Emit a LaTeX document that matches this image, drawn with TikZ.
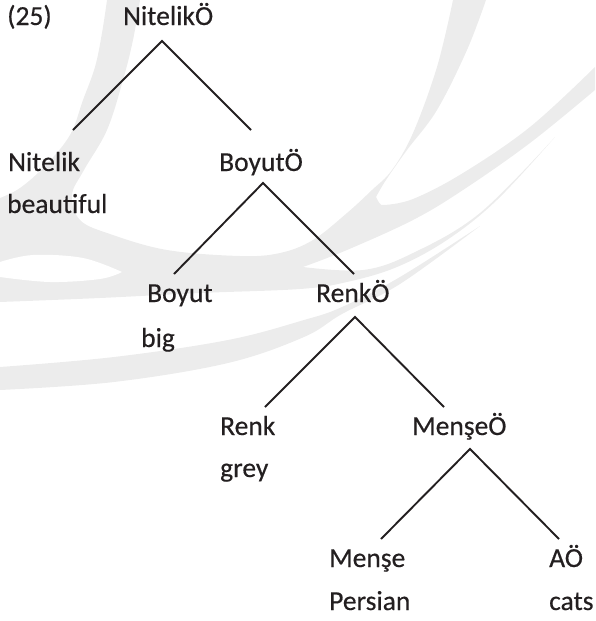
\documentclass[tikz,border=0pt]{standalone}
\usepackage{fontspec}
\setmainfont{Carlito}[FakeBold=0.4]
\definecolor{ink}{HTML}{231F20}
\definecolor{wmark}{RGB}{236,236,236}

\begin{document}
\begin{tikzpicture}[x=1pt,y=-1pt,
  lbl/.style={anchor=base west, inner sep=0pt, text=ink,
              font=\fontsize{27.5}{33}\selectfont},
  branch/.style={draw=ink, line width=1.9pt, line join=miter},
  swoosh/.style={fill=wmark, draw=none}]
\useasboundingbox (0,0) rectangle (595,621);

% --- pale swoosh logo in the background ---
% left stroke, broad band and right strokes
\path[swoosh]
  plot[smooth, tension=0.6] coordinates {(140,0)(133,40)(123,80)(107,130)(84,170)(72,195)(80,220)(110,234)(167,250)(240,256)(280,253)(313,240)(347,213)(372,190)(392,170)(413,133)(437,67)(453,0)}
  -- (486,0)
  -- plot[smooth, tension=0.6] coordinates {(486,0)(467,50)(437,110)(407,150)(386,180)(376,197)}
  to[out=-60,in=200] (384,205)
  -- plot[smooth, tension=0.6] coordinates {(384,205)(413,199)(463,173)(530,127)(595,67)}
  -- (595,90)
  -- plot[smooth, tension=0.6] coordinates {(595,90)(530,143)(463,190)(413,220)(347,250)(303,267)}
  -- plot[smooth, tension=0.6] coordinates {(303,267)(363,270)(413,253)(480,213)(555,137)}
  -- plot[smooth, tension=0.6] coordinates {(555,137)(497,200)(447,240)(397,267)(347,282)(300,289)(200,293)(100,298)(0,302)}
  -- (0,198)
  -- plot[smooth, tension=0.6] coordinates {(0,198)(20,188)(45,166)(70,135)(83,100)(95,67)(102,33)(107,0)}
  -- cycle;
% lower tapering band
\path[swoosh]
  plot[smooth, tension=0.6] coordinates {(0,367)(114,357)(228,340)(304,320)(342,307)(400,277)(480,226)}
  -- plot[smooth, tension=0.6] coordinates {(480,226)(400,284)(342,314)(304,337)(228,363)(114,382)(0,390)}
  -- cycle;
% opening inside the broad band
\fill[white]
  plot[smooth, tension=0.6] coordinates {(0,262)(33,255)(83,258)(122,272)}
  -- plot[smooth, tension=0.6] coordinates {(122,272)(100,279)(50,282)(0,277)}
  -- cycle;

% --- tree labels ---
\node[lbl] (num)   at (7,25)    {(25)};
\node[lbl] (nitO)  at (123,25)  {NitelikÖ};
\node[lbl] (nit)   at (8,171)   {Nitelik};
\node[lbl] (beau)  at (7,213)   {beautiful};
\node[lbl] (boyO)  at (219,171) {BoyutÖ};
\node[lbl] (boy)   at (147,302) {Boyut};
\node[lbl] (big)   at (141,347) {big};
\node[lbl] (renO)  at (316,302) {RenkÖ};
\node[lbl] (ren)   at (220,435) {Renk};
\node[lbl] (grey)  at (220,477) {grey};
\node[lbl] (menO)  at (412,435) {MenşeÖ};
\node[lbl] (men)   at (329,567) {Menşe};
\node[lbl] (pers)  at (329,610) {Persian};
\node[lbl] (aO)    at (549,567) {AÖ};
\node[lbl] (cats)  at (549,610) {cats};

% --- branch points ---
\coordinate (nitO-top) at (162,41);
\coordinate (nitO-l)   at (73,130);
\coordinate (nitO-r)   at (251,130);
\coordinate (boyO-top) at (263,183);
\coordinate (boyO-l)   at (174,274);
\coordinate (boyO-r)   at (354,274);
\coordinate (renO-top) at (355,317);
\coordinate (renO-l)   at (265,407);
\coordinate (renO-r)   at (444,407);
\coordinate (menO-top) at (470,449);
\coordinate (menO-l)   at (381,539);
\coordinate (menO-r)   at (559,539);

% --- branches ---
\draw[branch] (nitO-l) -- (nitO-top) -- (nitO-r);
\draw[branch] (boyO-l) -- (boyO-top) -- (boyO-r);
\draw[branch] (renO-l) -- (renO-top) -- (renO-r);
\draw[branch] (menO-l) -- (menO-top) -- (menO-r);
\end{tikzpicture}
\end{document}
